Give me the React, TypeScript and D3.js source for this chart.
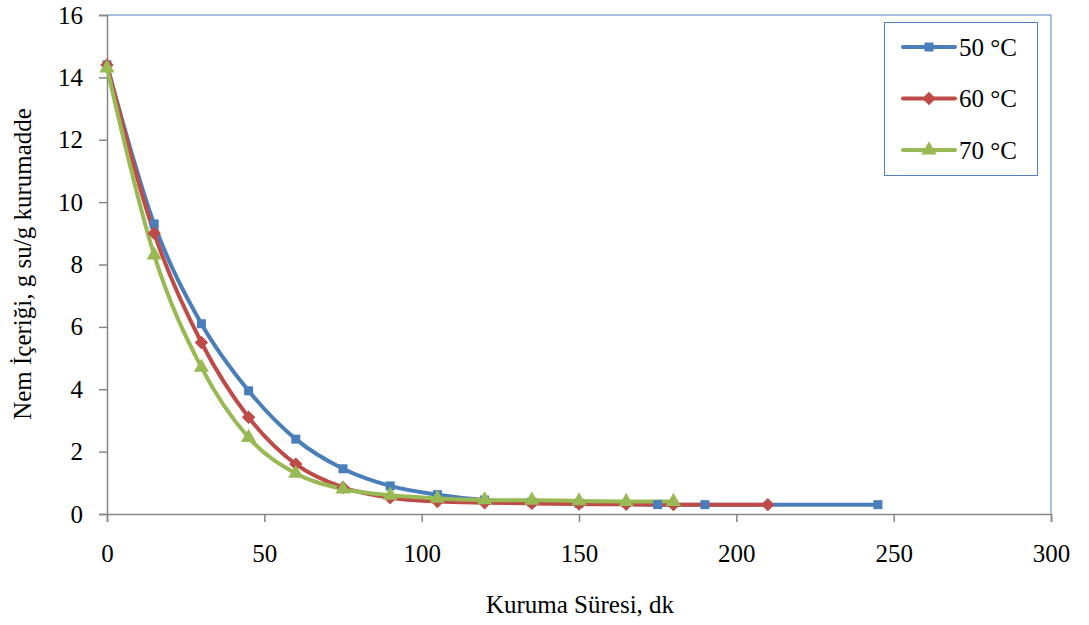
import React, { useEffect, useRef } from "react";
import * as d3 from "d3";

// drying curves
const time50 = [0, 15, 30, 45, 60, 75, 90, 105, 120, 135, 150, 175, 190, 245];
const moist50 = [14.4, 9.3, 6.1, 3.95, 2.4, 1.45, 0.9, 0.62, 0.45, 0.38, 0.34, 0.3, 0.3, 0.3];

const time60 = [0, 15, 30, 45, 60, 75, 90, 105, 120, 135, 150, 165, 180, 210];
const moist60 = [14.4, 9.0, 5.5, 3.1, 1.6, 0.85, 0.52, 0.4, 0.36, 0.34, 0.32, 0.31, 0.3, 0.3];

const time70 = [0, 15, 30, 45, 60, 75, 90, 105, 120, 135, 150, 165, 180];
const moist70 = [14.3, 8.3, 4.7, 2.45, 1.3, 0.8, 0.6, 0.5, 0.45, 0.44, 0.42, 0.4, 0.4];

const seriesNames = ["50 °C", "60 °C", "70 °C"];
const seriesColors = ["#4A7EBB", "#BE4B48", "#98B954"];
const markerTypes = ["square", "diamond", "triangle"];

const xTicks = [0, 50, 100, 150, 200, 250, 300];
const yTicks = [0, 2, 4, 6, 8, 10, 12, 14, 16];

const W = 1089;
const H = 625;
const font = "'Liberation Serif', 'Times New Roman', Times, serif";

function markerPath(type: string) {
  if (type === "square") return d3.symbol(d3.symbolSquare, 81)();
  if (type === "diamond") return d3.symbol(d3.symbolDiamond2, 115)();
  return d3.symbol(d3.symbolTriangle, 100)();
}

export default function App() {
  const ref = useRef<SVGSVGElement>(null);

  useEffect(() => {
    const svg = d3.select(ref.current);
    svg.selectAll("*").remove();

    const x = d3.scaleLinear().domain([0, 300]).range([107, 1051]);
    const y = d3.scaleLinear().domain([0, 16]).range([514, 15]);

    const data = [
      time50.map((t, i) => [t, moist50[i]]),
      time60.map((t, i) => [t, moist60[i]]),
      time70.map((t, i) => [t, moist70[i]]),
    ];

    // plot area frame (top/right blue)
    svg.append("path")
      .attr("d", `M107,15H1051V514`)
      .attr("fill", "none")
      .attr("stroke", "#4F81BD")
      .attr("stroke-width", 1);

    // axes
    const xAxis = svg.append("g").attr("transform", "translate(0,514)")
      .call(d3.axisBottom(x).tickValues(xTicks).tickSize(8).tickPadding(22));
    const yAxis = svg.append("g").attr("transform", "translate(107,0)")
      .call(d3.axisLeft(y).tickValues(yTicks).tickSize(8).tickPadding(16));
    [xAxis, yAxis].forEach(g => {
      g.attr("font-family", null).attr("font-size", null);
      g.select(".domain").attr("stroke", "#868686").attr("stroke-width", 1.5);
      g.selectAll(".tick line").attr("stroke", "#868686").attr("stroke-width", 1.5);
      g.selectAll(".tick text")
        .style("font-family", font)
        .style("font-size", "25px")
        .attr("fill", "#000");
    });

    const line = d3.line()
      .x(d => x(d[0]))
      .y(d => y(d[1]))
      .curve(d3.curveCardinal.tension(0));

    data.forEach((pts, i) => {
      svg.append("path")
        .attr("d", line(pts as [number, number][]))
        .attr("fill", "none")
        .attr("stroke", seriesColors[i])
        .attr("stroke-width", 4);
    });

    data.forEach((pts, i) => {
      svg.append("g")
        .selectAll("path")
        .data(pts)
        .enter()
        .append("path")
        .attr("d", markerPath(markerTypes[i]))
        .attr("transform", d => `translate(${x(d[0])},${y(d[1])})`)
        .attr("fill", seriesColors[i]);
    });

    // legend
    const lg = svg.append("g");
    lg.append("rect")
      .attr("x", 884.5).attr("y", 22.5).attr("width", 153).attr("height", 153)
      .attr("fill", "#fff").attr("stroke", "#4F81BD").attr("stroke-width", 1);
    seriesNames.forEach((name, i) => {
      const cy = 47 + i * 51.5;
      lg.append("line")
        .attr("x1", 903).attr("x2", 955).attr("y1", cy).attr("y2", cy)
        .attr("stroke", seriesColors[i]).attr("stroke-width", 4)
        .attr("stroke-linecap", "round");
      lg.append("path")
        .attr("d", markerPath(markerTypes[i]))
        .attr("transform", `translate(929,${cy})`)
        .attr("fill", seriesColors[i]);
      lg.append("text")
        .attr("x", 959).attr("y", cy + 8.5)
        .style("font-family", font).style("font-size", "25px")
        .text(name);
    });

    // axis titles
    svg.append("text")
      .attr("x", 580).attr("y", 613)
      .attr("text-anchor", "middle")
      .style("font-family", font).style("font-size", "25px")
      .text("Kuruma Süresi, dk");
    svg.append("text")
      .attr("transform", "translate(31,264) rotate(-90)")
      .attr("text-anchor", "middle")
      .style("font-family", font).style("font-size", "25px")
      .text("Nem İçeriği, g su/g kurumadde");
  }, []);

  return (
    <svg
      ref={ref}
      width={W}
      height={H}
      style={{ position: "absolute", left: 0, top: 0, background: "#fff" }}
    />
  );
}
